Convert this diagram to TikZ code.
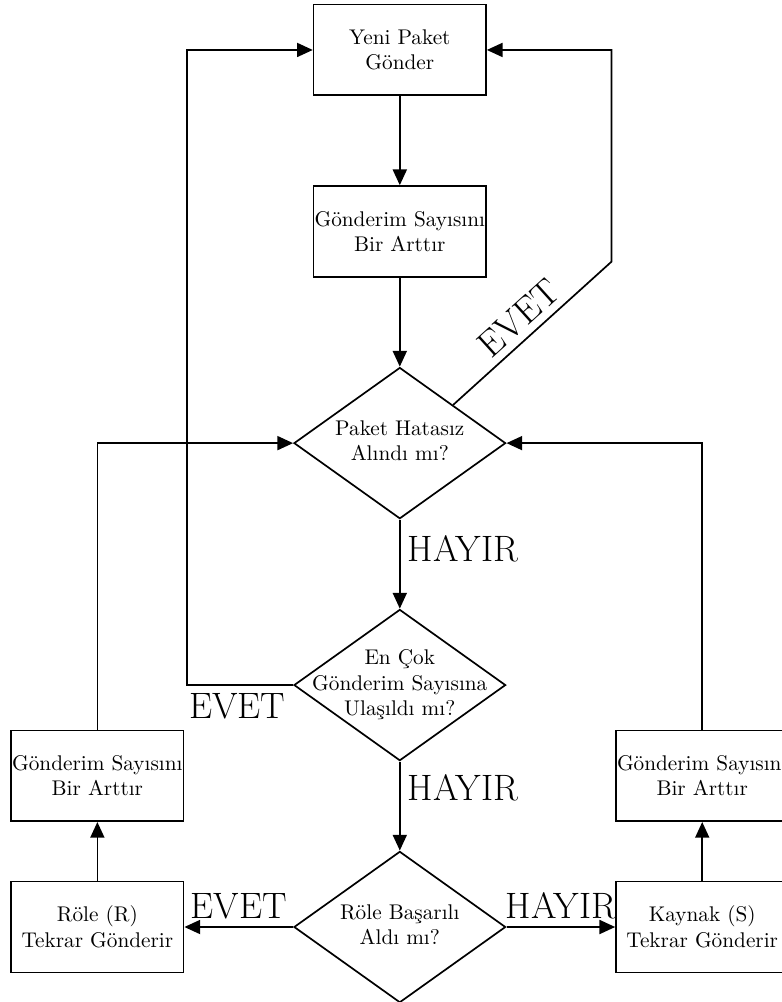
\documentclass[tikz,border=0pt]{standalone}
\usepackage{fontspec}
\usetikzlibrary{shapes.geometric, arrows.meta}

\newcommand{\ortala}[1]{\makebox[0pt]{\begin{tabular}{@{}c@{}}#1\end{tabular}}}

\begin{document}
\begin{tikzpicture}[
        kutu/.style={draw, thick, align=center, minimum width=2.85cm, minimum height=1.5cm, inner sep=0pt},
        karar/.style={draw, thick, diamond, minimum width=3.5cm, minimum height=2.5cm, inner sep=0pt},
        ok/.style={-{Triangle[length=7.4pt,width=6.6pt]}, thick},
        etiket/.style={font=\LARGE, inner sep=3.3pt}
    ]
        \useasboundingbox (-6.61,0.826) rectangle (6.31,-15.74);

        \node[kutu] (yeni) at (0,0) {Yeni Paket\\Gönder};
        \node[kutu] (artir) at (0,-3) {Gönderim Sayısını\\Bir Arttır};
        \node[karar] (hatasiz) at (0,-6.5) {\ortala{Paket Hatasız\\Alındı mı?}};
        \node[karar] (encok) at (0,-10.5) {\ortala{En Çok\\Gönderim Sayısına\\Ulaşıldı mı?}};
        \node[karar] (basarili) at (0,-14.5) {\ortala{Röle Başarılı\\Aldı mı?}};
        \node[kutu] (artirR) at (-5,-12) {Gönderim Sayısını\\Bir Arttır};
        \node[kutu] (role) at (-5,-14.5) {Röle (R)\\Tekrar Gönderir};
        \node[kutu] (artirS) at (5,-12) {Gönderim Sayısını\\Bir Arttır};
        \node[kutu] (kaynak) at (5,-14.5) {Kaynak (S)\\Tekrar Gönderir};
        \coordinate (kirik) at (3.5,-3.5);

        \draw[ok] (yeni) -- (artir);
        \draw[ok] (artir) -- (hatasiz);
        \draw[ok] (hatasiz) -- node[etiket, right, pos=0.33] {HAYIR} (encok);
        \draw[ok] (encok) -- node[etiket, right, pos=0.3] {HAYIR} (basarili);
        \draw[ok] (hatasiz.north east) -- node[etiket, sloped, above] {EVET} (kirik) |- (yeni.east);
        \draw[ok] (encok.west) node[etiket, below left] {EVET} -- ++(-1.75,0) |- (yeni.west);
        \draw[ok] (basarili) -- node[etiket, above] {EVET} (role);
        \draw[ok] (basarili) -- node[etiket, above] {HAYIR} (kaynak);
        \draw[ok] (role) -- (artirR);
        \draw[ok] (kaynak) -- (artirS);
        \draw[ok] (artirR) |- (hatasiz);
        \draw[ok] (artirS) |- (hatasiz);
    \end{tikzpicture}
\end{document}
